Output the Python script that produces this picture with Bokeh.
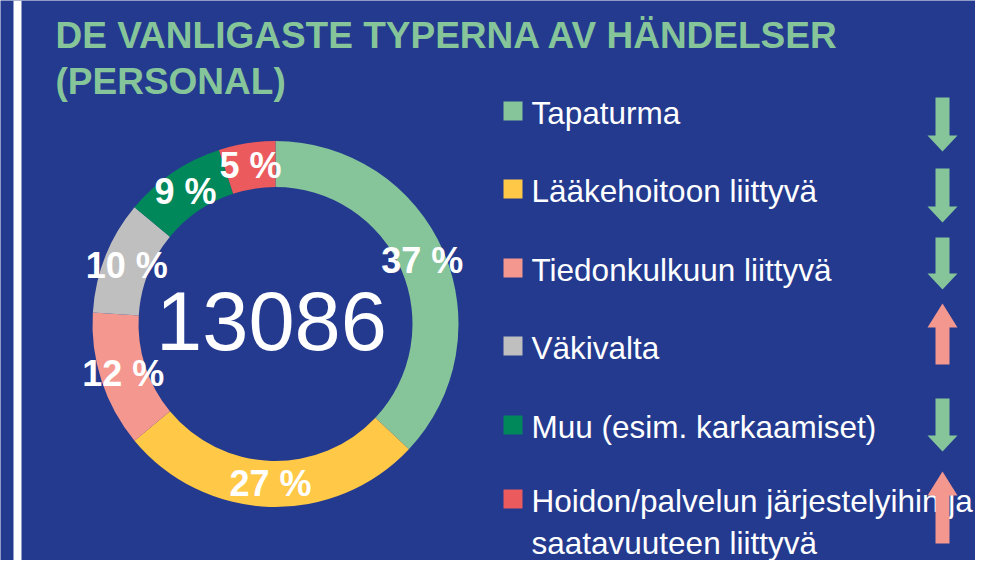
import math
from bokeh.plotting import figure
from bokeh.models import Range1d
from bokeh.core.properties import value
from bokeh.embed import file_html
from bokeh.resources import INLINE

# ---------------- data ----------------
title_lines = ["DE VANLIGASTE TYPERNA AV HÄNDELSER", "(PERSONAL)"]
categories = [
    "Tapaturma",
    "Lääkehoitoon liittyvä",
    "Tiedonkulkuun liittyvä",
    "Väkivalta",
    "Muu (esim. karkaamiset)",
    "Hoidon/palvelun järjestelyihin ja\nsaatavuuteen liittyvä",
]
shares = [37, 27, 12, 10, 9, 5]          # percent
total_count = 13086
trends = ["down", "down", "down", "up", "down", "up"]
colors = ["#86C49A", "#FFC846", "#F4978E", "#BFBFBF", "#00875A", "#EB5B5E"]

# ---------------- styles / layout ----------------
BG = "#233A8F"
TITLE_GREEN = "#86C59A"
ARROW_COLORS = {"down": "#86C59A", "up": "#F4978E"}
FONT = "Liberation Sans"

W, H = 975, 560
def Y(py):               # picture-y (downwards) -> data-y (upwards)
    return H - py

p = figure(width=W, height=H, x_range=Range1d(0, W), y_range=Range1d(0, H),
           output_backend="svg", toolbar_location=None, min_border=0)
p.axis.visible = False
p.grid.visible = False
p.outline_line_color = None
p.background_fill_color = BG
p.border_fill_color = BG

# white separator strip on the left
p.quad(left=[13], right=[21], bottom=[Y(H)], top=[Y(0)], fill_color="white", line_color=None)

# ---------------- donut ----------------
cx, cy = 275, Y(323.5)
r_in, r_out = 137, 183
tot = sum(shares)
starts, ends, lx, ly, labels = [], [], [], [], []
cum = 0.0
for s in shares:
    a0 = cum / tot
    a1 = (cum + s) / tot
    starts.append(math.pi / 2 - 2 * math.pi * a0)
    ends.append(math.pi / 2 - 2 * math.pi * a1)
    mid = (a0 + a1) / 2
    rm = (r_in + r_out) / 2
    lx.append(cx + rm * math.sin(2 * math.pi * mid))
    ly.append(cy + rm * math.cos(2 * math.pi * mid))
    labels.append(f"{s} %")
    cum += s

p.annular_wedge(x=cx, y=cy, inner_radius=r_in, outer_radius=r_out,
                start_angle=starts, end_angle=ends, direction="clock",
                fill_color=colors, line_color=None)

p.text(x=lx, y=ly, text=labels, text_font=value(FONT), text_font_size=value("36px"),
       text_font_style="bold", text_color="white", text_align="center", text_baseline="middle")

p.text(x=[271], y=[Y(320)], text=[str(total_count)], text_font=value(FONT),
       text_font_size=value("83px"), text_color="white", text_align="center",
       text_baseline="middle")

# ---------------- title ----------------
p.text(x=[55, 55], y=[Y(35), Y(81)], text=title_lines, text_font=value(FONT),
       text_font_size=value("37px"), text_font_style="bold", text_color=TITLE_GREEN,
       text_align="left", text_baseline="middle")

# ---------------- legend ----------------
row_mids = [112, 190, 269, 347, 426, 500]
sq = 19
tx, ty, tt = [], [], []
for lab, m in zip(categories, row_mids):
    for k, line in enumerate(lab.split("\n")):
        tx.append(531)
        ty.append(Y(m + 42 * k))
        tt.append(line)
p.quad(left=[503] * 6, right=[503 + sq] * 6,
       top=[Y(m - 11) for m in row_mids], bottom=[Y(m - 11 + sq) for m in row_mids],
       fill_color=colors, line_color=None)
p.text(x=tx, y=ty, text=tt, text_font=value(FONT), text_font_size=value("31.5px"),
       text_color="white", text_align="left", text_baseline="middle")

# ---------------- trend arrows ----------------
arrow_spans = [(97, 151), (168, 222), (237, 289), (303, 364), (398, 451), (471, 543)]
ax = 942
xs, ys, fills = [], [], []
for t, (top, bot) in zip(trends, arrow_spans):
    if t == "down":
        hs = bot - 16
        px = [ax - 7, ax + 7, ax + 7, ax + 15, ax, ax - 15, ax - 7]
        py = [top, top, hs, hs, bot, hs, hs]
    else:
        he = top + 24
        px = [ax - 7, ax + 7, ax + 7, ax + 15, ax, ax - 15, ax - 7]
        py = [bot, bot, he, he, top, he, he]
    xs.append(px)
    ys.append([Y(v) for v in py])
    fills.append(ARROW_COLORS[t])
p.patches(xs=xs, ys=ys, fill_color=fills, line_color=None)

open("out.html", "w").write(file_html(p, INLINE))
